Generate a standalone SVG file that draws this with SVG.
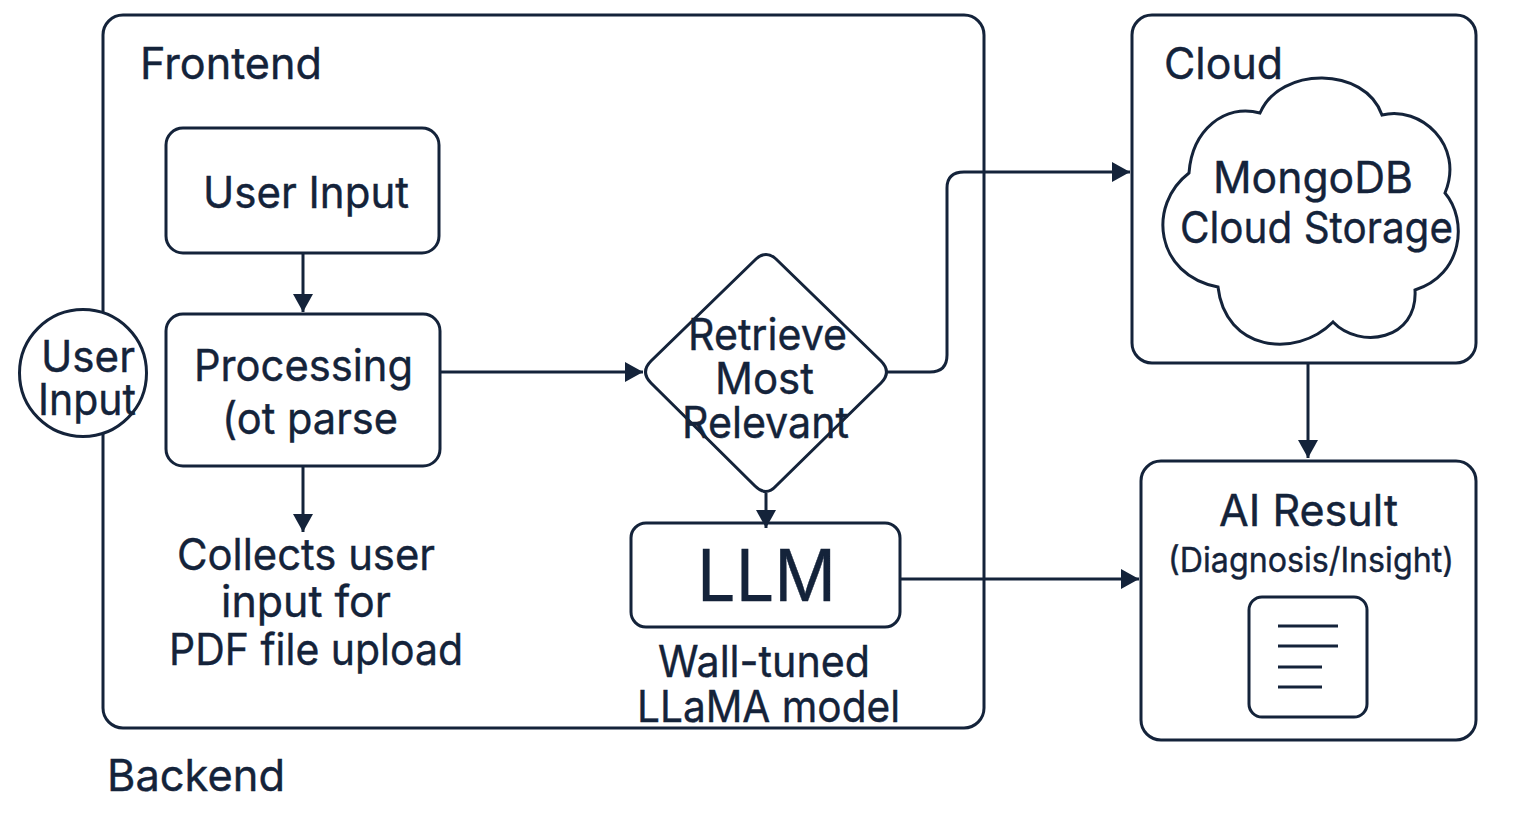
<svg xmlns="http://www.w3.org/2000/svg" width="1536" height="827" viewBox="0 0 1536 827">
<style>
.s{fill:none;stroke:#14233a;stroke-width:3}
.w{fill:#fff;stroke:#14233a;stroke-width:3}
.c{fill:none;stroke:#14233a;stroke-width:3}
text{font-family:"Inter","Liberation Sans",sans-serif;fill:#14233a;stroke:#14233a;stroke-width:.4;font-size:44px}
</style>
<defs><marker id="a" markerUnits="userSpaceOnUse" markerWidth="22" markerHeight="22" refX="18" refY="10" orient="auto"><path d="M0 0L18 10L0 20Z" fill="#14233a"/></marker></defs>
<rect width="1536" height="827" fill="#fff"/>
<g id="backend"><rect class="s" x="103" y="15" width="881" height="713" rx="20"/><text x="107" y="791" textLength="178" lengthAdjust="spacingAndGlyphs">Backend</text><text x="140" y="79" textLength="182" lengthAdjust="spacingAndGlyphs">Frontend</text></g>
<g id="cloud-box"><rect class="s" x="1132" y="15" width="344" height="348" rx="20"/><text x="1164" y="79" textLength="119" lengthAdjust="spacingAndGlyphs">Cloud</text></g>
<g id="connectors">
<path class="c" marker-end="url(#a)" d="M303 254V312"/>
<path class="c" marker-end="url(#a)" d="M303 467V532"/>
<path class="c" marker-end="url(#a)" d="M440 372H643"/>
<path class="c" marker-end="url(#a)" d="M887 372H930Q947 372 947 355V188Q947 172 964 172H1130"/>
<path class="c" marker-end="url(#a)" d="M766 493V528"/>
<path class="c" marker-end="url(#a)" d="M900 579H1139"/>
<path class="c" marker-end="url(#a)" d="M1308 363V458"/>
</g>
<g id="user-input-circle"><circle class="w" cx="83" cy="373" r="63.500"/><text x="41" y="372" textLength="94" lengthAdjust="spacingAndGlyphs">User</text><text x="38" y="415" textLength="98" lengthAdjust="spacingAndGlyphs">Input</text></g>
<g id="user-input"><rect class="s" x="166" y="128" width="273" height="125" rx="17"/><text x="203" y="208" textLength="206" lengthAdjust="spacingAndGlyphs">User Input</text></g>
<g id="processing"><rect class="s" x="166" y="314" width="274" height="152" rx="17"/><text x="194" y="381" textLength="219" lengthAdjust="spacingAndGlyphs">Processing</text><text x="222" y="434" textLength="176" lengthAdjust="spacingAndGlyphs">(ot parse</text></g>
<g id="collects"><text x="177" y="570" textLength="258" lengthAdjust="spacingAndGlyphs">Collects user</text><text x="221" y="617" textLength="170" lengthAdjust="spacingAndGlyphs">input for</text><text x="169" y="665" textLength="294" lengthAdjust="spacingAndGlyphs">PDF file upload</text></g>
<g id="retrieve"><path class="s" d="M756 259Q766 250 776 259L881 361Q892 372 881 383L776 486Q766 497 755 486L651 383Q640 372 651 361Z"/><text x="688" y="350" textLength="159" lengthAdjust="spacingAndGlyphs">Retrieve</text><text x="715" y="394" textLength="99" lengthAdjust="spacingAndGlyphs">Most</text><text x="682" y="438" textLength="167" lengthAdjust="spacingAndGlyphs">Relevant</text></g>
<g id="llm"><rect class="s" x="631" y="523" width="269" height="104" rx="15"/><text x="697" y="601" style="font-size:72px" textLength="139" lengthAdjust="spacingAndGlyphs">LLM</text></g>
<g id="llama"><text x="658" y="677" textLength="212" lengthAdjust="spacingAndGlyphs">Wall-tuned</text><text x="637" y="722" textLength="263" lengthAdjust="spacingAndGlyphs">LLaMA model</text></g>
<g id="mongodb"><path class="w" d="M1189 173C1192 130 1225 103 1260 113C1280 66 1365 66 1382 115C1420 105 1465 145 1445 193C1468 220 1463 275 1415 290C1418 340 1360 350 1333 322C1295 360 1225 350 1218 287C1155 275 1147 205 1189 173Z"/><text x="1213" y="193" textLength="200" lengthAdjust="spacingAndGlyphs">MongoDB</text><text x="1180" y="243" textLength="273" lengthAdjust="spacingAndGlyphs">Cloud Storage</text></g>
<g id="ai-result"><rect class="s" x="1141" y="461" width="335" height="279" rx="20"/><text x="1219" y="526" textLength="179" lengthAdjust="spacingAndGlyphs">AI Result</text><text x="1168" y="572" style="font-size:34px" textLength="286" lengthAdjust="spacingAndGlyphs">(Diagnosis/Insight)</text><rect class="s" x="1249" y="597" width="118" height="120" rx="13"/><path class="s" d="M1278 626H1338M1278 646H1338M1278 667H1322M1278 687H1322"/></g>
</svg>
